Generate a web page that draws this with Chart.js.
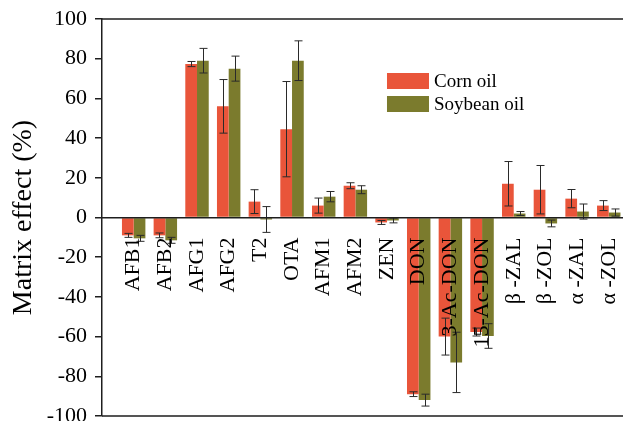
<!DOCTYPE html>
<html>
<head>
<meta charset="utf-8">
<script src="https://cdn.jsdelivr.net/npm/chart.js@4.4.1/dist/chart.umd.min.js"></script>
<style>
  html, body { margin: 0; padding: 0; background: #ffffff; }
  #wrap { width: 623px; height: 421px; }
</style>
</head>
<body>
<div id="wrap"><canvas id="c"></canvas></div>
<script>
// Mycotoxin names along the x axis
const categories = ['AFB1', 'AFB2', 'AFG1', 'AFG2', 'T2', 'OTA', 'AFM1', 'AFM2', 'ZEN',
  'DON', '3-Ac-DON', '15-Ac-DON', 'β -ZAL', 'β -ZOL', 'α -ZAL', 'α -ZOL'];

// Matrix effect (%) and standard deviation for each oil
const cornOil       = [-9, -9, 77.3, 56, 8, 44.5, 6, 16, -2.5, -89, -60, -57.7, 17, 14, 9.5, 6];
const cornOilErr    = [1, 1.2, 1.3, 13.5, 6, 24, 3.8, 1.5, 1, 1.2, 9.3, 2, 11.2, 12.2, 4.6, 2.5];
const soybeanOil    = [-10.5, -11.5, 79, 75, -1, 79, 10.5, 14, -1.5, -92, -73, -59.7, 2, -3, 3, 2.5];
const soybeanOilErr = [1.5, 1.5, 6.2, 6.3, 6.5, 10, 2.6, 2, 1.2, 3, 15.2, 6.2, 1, 1.7, 3.8, 1.8];

const seriesNames = ['Corn oil', 'Soybean oil'];
const yTicks = [-100, -80, -60, -40, -20, 0, 20, 40, 60, 80, 100];

const RED = '#e9553a';
const OLIVE = '#7b7b2d';
const INK = '#1e1e1e';
const SERIF = '"Liberation Serif", "Times New Roman", serif';

const toPoints = vals => vals.map((v, i) => ({ x: i + 1, y: v }));

// Symmetric error bars drawn through the chart's own scales
const errorBars = {
  id: 'errorBars',
  afterDatasetsDraw(chart) {
    const ctx = chart.ctx;
    const yScale = chart.scales.y;
    ctx.save();
    ctx.strokeStyle = '#2a2a2a';
    ctx.lineWidth = 1;
    chart.data.datasets.forEach((ds, di) => {
      const meta = chart.getDatasetMeta(di);
      meta.data.forEach((bar, i) => {
        const v = ds.data[i].y;
        const e = ds.errors[i];
        const x = Math.round(bar.x) + 0.5;
        const yHi = yScale.getPixelForValue(v + e);
        const yLo = yScale.getPixelForValue(v - e);
        const cap = 4;
        ctx.beginPath();
        ctx.moveTo(x, yHi); ctx.lineTo(x, yLo);
        ctx.moveTo(x - cap, yHi); ctx.lineTo(x + cap, yHi);
        ctx.moveTo(x - cap, yLo); ctx.lineTo(x + cap, yLo);
        ctx.stroke();
      });
    });
    ctx.restore();
  }
};

// Top and bottom frame lines of the plot
const frameLines = {
  id: 'frameLines',
  afterDraw(chart) {
    const { ctx, chartArea } = chart;
    ctx.save();
    ctx.strokeStyle = INK;
    ctx.lineWidth = 1.5;
    ctx.beginPath();
    ctx.moveTo(chartArea.left, chartArea.top);
    ctx.lineTo(chart.width, chartArea.top);
    ctx.moveTo(chartArea.left, chartArea.bottom);
    ctx.lineTo(chart.width, chartArea.bottom);
    ctx.stroke();
    ctx.restore();
  }
};

// Legend inside the plot, upper right
const innerLegend = {
  id: 'innerLegend',
  afterDraw(chart) {
    const { ctx, chartArea } = chart;
    const x0 = chartArea.left + 0.547 * (chartArea.right - chartArea.left);
    const y0 = chartArea.top + 54;
    const boxW = 42, boxH = 16, rowGap = 23;
    ctx.save();
    ctx.font = '19px ' + SERIF;
    ctx.textBaseline = 'middle';
    ctx.textAlign = 'left';
    chart.data.datasets.forEach((ds, i) => {
      const y = y0 + i * rowGap;
      ctx.fillStyle = ds.backgroundColor;
      ctx.fillRect(x0, y, boxW, boxH);
      ctx.fillStyle = '#000';
      ctx.fillText(ds.label, x0 + boxW + 5, y + boxH / 2 + 1);
    });
    ctx.restore();
  }
};

new Chart(document.getElementById('c'), {
  type: 'bar',
  data: {
    datasets: [
      { label: seriesNames[0], data: toPoints(cornOil), errors: cornOilErr, backgroundColor: RED },
      { label: seriesNames[1], data: toPoints(soybeanOil), errors: soybeanOilErr, backgroundColor: OLIVE }
    ]
  },
  options: {
    responsive: true,
    maintainAspectRatio: false,
    animation: false,
    devicePixelRatio: 1,
    layout: { padding: { top: 19, bottom: 5, left: 0, right: 0 } },
    datasets: { bar: { categoryPercentage: 0.74, barPercentage: 1.0 } },
    plugins: { legend: { display: false }, tooltip: { enabled: false } },
    scales: {
      x: {
        type: 'linear',
        position: { y: 0 },
        offset: false,
        min: 0,
        max: 16.45,
        afterBuildTicks: s => { s.ticks = categories.map((_, i) => ({ value: i + 1 })); },
        afterFit: s => { s.paddingLeft = 0; s.paddingRight = 0; },
        grid: { display: false, drawTicks: false },
        border: { display: true, color: INK, width: 1.5, z: 1 },
        ticks: {
          z: 1,
          autoSkip: false,
          minRotation: 90,
          maxRotation: 90,
          padding: 20,
          color: '#000',
          font: { family: SERIF, size: 22 },
          callback: v => categories[Math.round(v) - 1] || ''
        }
      },
      y: {
        min: -100,
        max: 100,
        afterBuildTicks: s => { s.ticks = yTicks.map(v => ({ value: v })); },
        afterFit: s => { s.width = 102; s.paddingTop = 0; s.paddingBottom = 0; },
        grid: { drawOnChartArea: false, drawTicks: true, tickLength: 7, color: INK, lineWidth: 1.5 },
        border: { display: true, color: INK, width: 1.5 },
        ticks: {
          padding: 8,
          color: '#000',
          font: { family: SERIF, size: 22 }
        },
        title: {
          display: true,
          text: 'Matrix effect (%)',
          color: '#000',
          font: { family: SERIF, size: 28 },
          padding: { top: 7, bottom: 0 }
        }
      }
    }
  },
  plugins: [errorBars, frameLines, innerLegend]
});
</script>
</body>
</html>
